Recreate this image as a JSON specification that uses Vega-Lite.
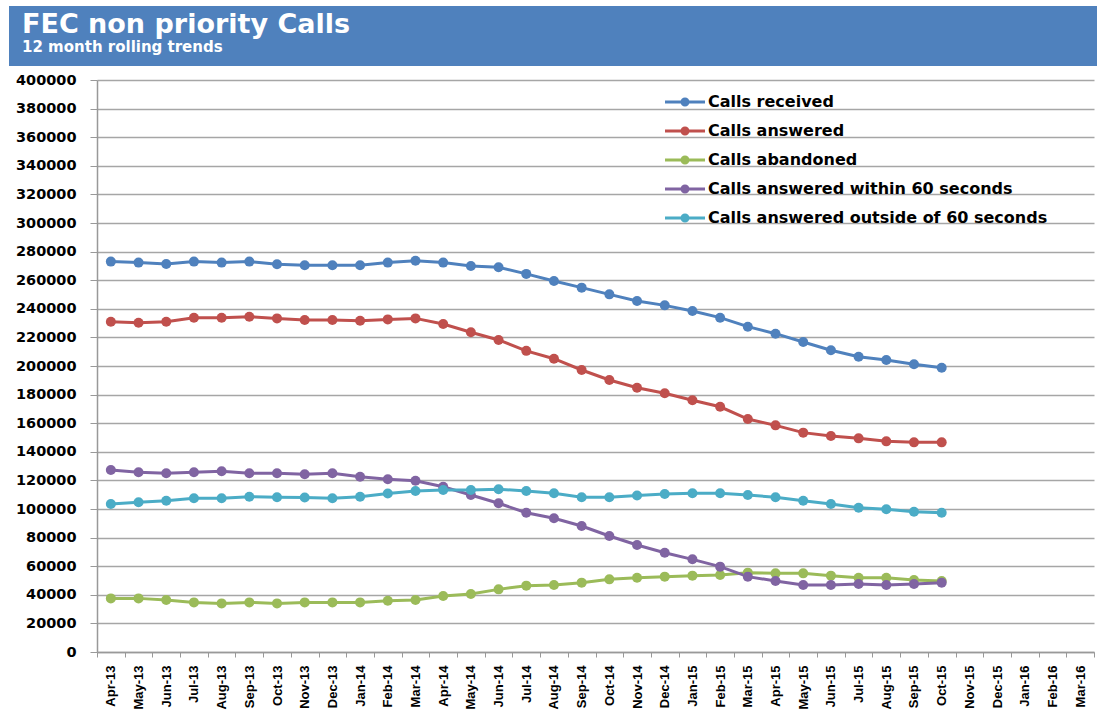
{
  "$schema": "https://vega.github.io/schema/vega-lite/v6.json",
  "background": "white",
  "padding": {"left": 6, "top": 6, "right": 0, "bottom": 0},
  "spacing": 6,
  "vconcat": [
    {
      "width": 1091,
      "height": 60,
      "view": {"fill": "#4F81BD", "stroke": null},
      "title": {
        "text": "FEC non priority Calls",
        "subtitle": "12 month rolling trends",
        "anchor": "start",
        "frame": "group",
        "orient": "top",
        "offset": -50,
        "dx": 13,
        "color": "white",
        "subtitleColor": "white",
        "font": "DejaVu Sans",
        "fontSize": 27,
        "fontWeight": "bold",
        "subtitleFont": "DejaVu Sans",
        "subtitleFontSize": 15,
        "subtitleFontWeight": "bold",
        "subtitlePadding": 1
      },
      "data": {"values": [{}]},
      "mark": {"type": "point", "opacity": 0},
      "encoding": {}
    },
    {
      "spacing": 0,
      "hconcat": [
        {
          "width": 1,
          "height": 572,
          "view": {"stroke": null},
          "data": {"values": [{}]},
          "mark": {"type": "point", "opacity": 0},
          "encoding": {}
        },
        {
          "width": 997,
          "height": 572,
          "view": {"stroke": null},
          "data": {
            "values": [
              {"month": "Apr-13", "Calls received": 273000, "Calls answered": 231000, "Calls abandoned": 37500, "Calls answered within 60 seconds": 127300, "Calls answered outside of 60 seconds": 103500},
              {"month": "May-13", "Calls received": 272300, "Calls answered": 230300, "Calls abandoned": 37500, "Calls answered within 60 seconds": 125700, "Calls answered outside of 60 seconds": 104700},
              {"month": "Jun-13", "Calls received": 271300, "Calls answered": 231000, "Calls abandoned": 36400, "Calls answered within 60 seconds": 125000, "Calls answered outside of 60 seconds": 105800},
              {"month": "Jul-13", "Calls received": 273000, "Calls answered": 233800, "Calls abandoned": 34700, "Calls answered within 60 seconds": 125700, "Calls answered outside of 60 seconds": 107500},
              {"month": "Aug-13", "Calls received": 272300, "Calls answered": 233800, "Calls abandoned": 34000, "Calls answered within 60 seconds": 126400, "Calls answered outside of 60 seconds": 107500},
              {"month": "Sep-13", "Calls received": 273000, "Calls answered": 234500, "Calls abandoned": 34700, "Calls answered within 60 seconds": 125000, "Calls answered outside of 60 seconds": 108600},
              {"month": "Oct-13", "Calls received": 271100, "Calls answered": 233300, "Calls abandoned": 34000, "Calls answered within 60 seconds": 125000, "Calls answered outside of 60 seconds": 108200},
              {"month": "Nov-13", "Calls received": 270400, "Calls answered": 232200, "Calls abandoned": 34700, "Calls answered within 60 seconds": 124300, "Calls answered outside of 60 seconds": 108000},
              {"month": "Dec-13", "Calls received": 270400, "Calls answered": 232200, "Calls abandoned": 34700, "Calls answered within 60 seconds": 125000, "Calls answered outside of 60 seconds": 107500},
              {"month": "Jan-14", "Calls received": 270400, "Calls answered": 231700, "Calls abandoned": 34700, "Calls answered within 60 seconds": 122600, "Calls answered outside of 60 seconds": 108600},
              {"month": "Feb-14", "Calls received": 272300, "Calls answered": 232600, "Calls abandoned": 35900, "Calls answered within 60 seconds": 120800, "Calls answered outside of 60 seconds": 110900},
              {"month": "Mar-14", "Calls received": 273600, "Calls answered": 233300, "Calls abandoned": 36400, "Calls answered within 60 seconds": 119800, "Calls answered outside of 60 seconds": 112600},
              {"month": "Apr-14", "Calls received": 272300, "Calls answered": 229400, "Calls abandoned": 39200, "Calls answered within 60 seconds": 115600, "Calls answered outside of 60 seconds": 113300},
              {"month": "May-14", "Calls received": 269900, "Calls answered": 223600, "Calls abandoned": 40600, "Calls answered within 60 seconds": 109800, "Calls answered outside of 60 seconds": 113300},
              {"month": "Jun-14", "Calls received": 269000, "Calls answered": 218200, "Calls abandoned": 43800, "Calls answered within 60 seconds": 104000, "Calls answered outside of 60 seconds": 113800},
              {"month": "Jul-14", "Calls received": 264400, "Calls answered": 210600, "Calls abandoned": 46400, "Calls answered within 60 seconds": 97400, "Calls answered outside of 60 seconds": 112600},
              {"month": "Aug-14", "Calls received": 259400, "Calls answered": 205100, "Calls abandoned": 46900, "Calls answered within 60 seconds": 93500, "Calls answered outside of 60 seconds": 111000},
              {"month": "Sep-14", "Calls received": 254800, "Calls answered": 197200, "Calls abandoned": 48500, "Calls answered within 60 seconds": 88100, "Calls answered outside of 60 seconds": 108200},
              {"month": "Oct-14", "Calls received": 250100, "Calls answered": 190200, "Calls abandoned": 50800, "Calls answered within 60 seconds": 81100, "Calls answered outside of 60 seconds": 108200},
              {"month": "Nov-14", "Calls received": 245500, "Calls answered": 184800, "Calls abandoned": 51900, "Calls answered within 60 seconds": 74800, "Calls answered outside of 60 seconds": 109400},
              {"month": "Dec-14", "Calls received": 242400, "Calls answered": 180900, "Calls abandoned": 52700, "Calls answered within 60 seconds": 69400, "Calls answered outside of 60 seconds": 110500},
              {"month": "Jan-15", "Calls received": 238500, "Calls answered": 176000, "Calls abandoned": 53400, "Calls answered within 60 seconds": 64800, "Calls answered outside of 60 seconds": 111000},
              {"month": "Feb-15", "Calls received": 233800, "Calls answered": 171500, "Calls abandoned": 53800, "Calls answered within 60 seconds": 59700, "Calls answered outside of 60 seconds": 111000},
              {"month": "Mar-15", "Calls received": 227500, "Calls answered": 162900, "Calls abandoned": 55500, "Calls answered within 60 seconds": 52700, "Calls answered outside of 60 seconds": 109800},
              {"month": "Apr-15", "Calls received": 222600, "Calls answered": 158500, "Calls abandoned": 55000, "Calls answered within 60 seconds": 49700, "Calls answered outside of 60 seconds": 108200},
              {"month": "May-15", "Calls received": 216800, "Calls answered": 153400, "Calls abandoned": 55000, "Calls answered within 60 seconds": 46900, "Calls answered outside of 60 seconds": 105800},
              {"month": "Jun-15", "Calls received": 211000, "Calls answered": 151000, "Calls abandoned": 53400, "Calls answered within 60 seconds": 46900, "Calls answered outside of 60 seconds": 103500},
              {"month": "Jul-15", "Calls received": 206500, "Calls answered": 149400, "Calls abandoned": 51900, "Calls answered within 60 seconds": 47600, "Calls answered outside of 60 seconds": 100900},
              {"month": "Aug-15", "Calls received": 204200, "Calls answered": 147300, "Calls abandoned": 51900, "Calls answered within 60 seconds": 46900, "Calls answered outside of 60 seconds": 99800},
              {"month": "Sep-15", "Calls received": 201200, "Calls answered": 146600, "Calls abandoned": 50300, "Calls answered within 60 seconds": 47600, "Calls answered outside of 60 seconds": 98100},
              {"month": "Oct-15", "Calls received": 198800, "Calls answered": 146600, "Calls abandoned": 49700, "Calls answered within 60 seconds": 48500, "Calls answered outside of 60 seconds": 97400}
            ]
          },
          "transform": [
            {"fold": ["Calls received", "Calls answered", "Calls abandoned", "Calls answered within 60 seconds", "Calls answered outside of 60 seconds"], "as": ["series", "value"]}
          ],
          "mark": {"type": "line", "strokeWidth": 3, "point": {"filled": true, "size": 100}},
          "encoding": {
            "x": {
              "field": "month",
              "type": "ordinal",
              "scale": {
                "type": "band",
                "paddingInner": 0,
                "paddingOuter": 0,
                "domain": ["Apr-13", "May-13", "Jun-13", "Jul-13", "Aug-13", "Sep-13", "Oct-13", "Nov-13", "Dec-13", "Jan-14", "Feb-14", "Mar-14", "Apr-14", "May-14", "Jun-14", "Jul-14", "Aug-14", "Sep-14", "Oct-14", "Nov-14", "Dec-14", "Jan-15", "Feb-15", "Mar-15", "Apr-15", "May-15", "Jun-15", "Jul-15", "Aug-15", "Sep-15", "Oct-15", "Nov-15", "Dec-15", "Jan-16", "Feb-16", "Mar-16"]
              },
              "axis": {
                "title": null,
                "labelAngle": -90,
                "labelFont": "Liberation Sans",
                "labelFontSize": 13,
                "labelFontWeight": "bold",
                "labelColor": "black",
                "labelPadding": 8,
                "tickSize": 5,
                "tickBand": "extent",
                "tickColor": "#999999",
                "domainColor": "#999999",
                "domainWidth": 1.5,
                "grid": false
              }
            },
            "y": {
              "field": "value",
              "type": "quantitative",
              "scale": {"domain": [0, 400000], "nice": false},
              "axis": {
                "title": null,
                "values": [0, 20000, 40000, 60000, 80000, 100000, 120000, 140000, 160000, 180000, 200000, 220000, 240000, 260000, 280000, 300000, 320000, 340000, 360000, 380000, 400000],
                "format": "d",
                "labelFont": "DejaVu Sans",
                "labelFontSize": 14.5,
                "labelFontWeight": "bold",
                "labelColor": "black",
                "labelPadding": 14,
                "tickSize": 7,
                "tickColor": "#999999",
                "domainColor": "#999999",
                "domainWidth": 1.5,
                "gridColor": "#A6A6A6",
                "gridWidth": 1.5,
                "minExtent": 84
              }
            },
            "color": {
              "field": "series",
              "type": "nominal",
              "scale": {
                "domain": ["Calls received", "Calls answered", "Calls abandoned", "Calls answered within 60 seconds", "Calls answered outside of 60 seconds"],
                "range": ["#4F81BD", "#C0504D", "#9BBB59", "#8064A2", "#4BACC6"]
              },
              "legend": {
                "orient": "none",
                "legendX": 668,
                "legendY": 88,
                "title": null,
                "padding": 0,
                "symbolType": "M-4,0L4,0M-0.6,0A0.6,0.6,0,1,1,0.6,0A0.6,0.6,0,1,1,-0.6,0Z",
                "symbolSize": 100,
                "symbolStrokeWidth": 3,
                "labelFont": "DejaVu Sans",
                "labelFontSize": 16,
                "labelFontWeight": "bold",
                "labelColor": "black",
                "labelOffset": 15,
                "labelLimit": 600,
                "rowPadding": 11,
                "encode": {
                  "symbols": {
                    "update": {
                      "fill": {"scale": "color", "field": "value"},
                      "stroke": {"scale": "color", "field": "value"},
                      "strokeWidth": {"value": 3},
                      "opacity": {"value": 1}
                    }
                  }
                }
              }
            }
          }
        }
      ]
    }
  ]
}
